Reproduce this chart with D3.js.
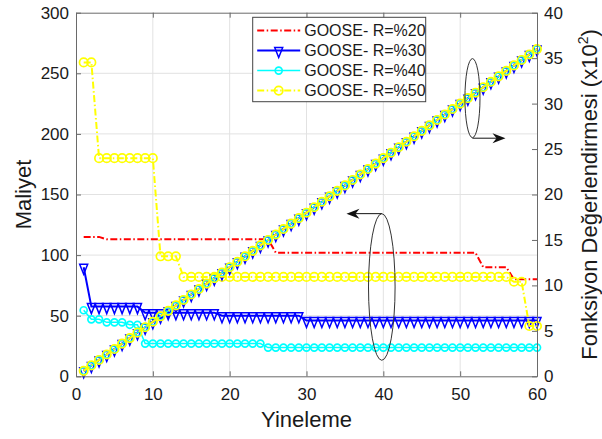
<!DOCTYPE html>
<html>
<head>
<meta charset="utf-8">
<script src="https://cdn.jsdelivr.net/npm/d3@7/dist/d3.min.js"></script>
<style>
    body { margin: 0; background: #fff; }
    #chart { width: 602px; height: 439px; }
    text { font-family: "Liberation Sans", Arial, sans-serif; fill: #1a1a1a; }
</style>
</head>
<body>
<div id="chart"></div>
<script>
// x axis: iteration number
const iterations = [1,2,3,4,5,6,7,8,9,10,11,12,13,14,15,16,17,18,19,20,
    21,22,23,24,25,26,27,28,29,30,31,32,33,34,35,36,37,38,39,40,
    41,42,43,44,45,46,47,48,49,50,51,52,53,54,55,56,57,58,59,60];

// right axis: function evaluations (x10^2), same for every run
const fevals = [0.6,1.2,1.8,2.4,3.0,3.6,4.2,4.8,5.4,6.0,6.6,7.2,7.8,8.4,9.0,9.6,10.2,10.8,11.4,12.0,
    12.6,13.2,13.8,14.4,15.0,15.6,16.2,16.8,17.4,18.0,18.6,19.2,19.8,20.4,21.0,21.6,22.2,22.8,23.4,24.0,
    24.6,25.2,25.8,26.4,27.0,27.6,28.2,28.8,29.4,30.0,30.6,31.2,31.8,32.4,33.0,33.6,34.2,34.8,35.4,36.0];

// left axis: cost (Maliyet) per iteration
const costR20 = [115,115,115,113,113,113,113,113,113,113,113,113,113,113,113,113,113,113,113,113,
    113,113,113,113,113,102,102,102,102,102,102,102,102,102,102,102,102,102,102,102,
    102,102,102,102,102,102,102,102,102,102,102,102,90,90,90,90,80,80,80,80];
const costR30 = [90,57.5,57.5,57.5,57.5,57.5,57.5,57.5,52.5,52.5,52.5,52.5,52.5,52.5,52.5,52.5,52.5,52.5,50,50,
    50,50,50,50,50,50,50,50,50,46,46,46,46,46,46,46,46,46,46,46,
    46,46,46,46,46,46,46,46,46,46,46,46,46,46,46,46,46,46,46,46];
const costR40 = [54.5,47,47,44.5,44.5,44.5,42.5,42.5,27,27,27,27,27,27,27,27,27,27,27,27,
    27,27,27,27,23.7,23.7,23.7,23.7,23.7,23.7,23.7,23.7,23.7,23.7,23.7,23.7,23.7,23.7,23.7,23.7,
    23.7,23.7,23.7,23.7,23.7,23.7,23.7,23.7,23.7,23.7,23.7,23.7,23.7,23.7,23.7,23.7,23.7,23.7,23.7,23.7];
const costR50 = [259,259,180,180,180,180,180,180,180,180,99,99,99,82,82,82,82,82,82,82,
    82,82,82,82,82,82,82,82,82,82,82,82,82,82,82,82,82,82,82,82,
    82,82,82,82,82,82,82,82,82,82,82,82,82,82,82,82,78,78,41.5,41.5];

const seriesNames = ["GOOSE- R=%20", "GOOSE- R=%30", "GOOSE- R=%40", "GOOSE- R=%50"];

const xTicks = [0, 10, 20, 30, 40, 50, 60];
const yLeftTicks = [0, 50, 100, 150, 200, 250, 300];
const yRightTicks = [0, 5, 10, 15, 20, 25, 30, 35, 40];

class DualAxisChart {
    constructor(parentElement) {
        this.parentElement = parentElement;
        this.initVis();
    }

    initVis() {
        let vis = this;

        vis.margin = {top: 12.7, right: 65, bottom: 62.7, left: 76};
        vis.width = 602 - vis.margin.left - vis.margin.right;
        vis.height = 439 - vis.margin.top - vis.margin.bottom;

        vis.svg = d3.select("#" + vis.parentElement).append("svg")
            .attr("width", 602)
            .attr("height", 439)
            .append("g")
            .attr("transform", `translate(${vis.margin.left}, ${vis.margin.top})`);

        vis.x = d3.scaleLinear().domain([0, 60]).range([0, vis.width]);
        vis.yL = d3.scaleLinear().domain([0, 300]).range([vis.height, 0]);
        vis.yR = d3.scaleLinear().domain([0, 40]).range([vis.height, 0]);

        // each run, with its style (kept apart from the values)
        vis.series = [
            {name: seriesNames[0], cost: costR20, color: "#ff0000", dash: "7,2.5,1.5,2.5", width: 2, marker: null},
            {name: seriesNames[1], cost: costR30, color: "#0000ff", dash: null, width: 2, marker: "tri"},
            {name: seriesNames[2], cost: costR40, color: "#00ffff", dash: null, width: 1.5, marker: "circle", r: 3.5},
            {name: seriesNames[3], cost: costR50, color: "#ffff00", dash: "7,2.5,1.5,2.5", width: 2, marker: "circle", r: 4.2}
        ];

        vis.updateVis();
    }

    drawMarkers(g, s, pts) {
        if (s.marker === "tri") {
            g.selectAll(null).data(pts).join("path")
                .attr("d", "M-4,-3L4,-3L0,7Z")
                .attr("transform", d => `translate(${d[0]},${d[1]})`)
                .attr("fill", "none")
                .attr("stroke", s.color)
                .attr("stroke-width", 1.5);
        } else if (s.marker === "circle") {
            g.selectAll(null).data(pts).join("circle")
                .attr("cx", d => d[0])
                .attr("cy", d => d[1])
                .attr("r", s.r)
                .attr("fill", "none")
                .attr("stroke", s.color)
                .attr("stroke-width", 1.7);
        }
    }

    updateVis() {
        let vis = this;

        // grid
        let grid = vis.svg.append("g");
        grid.selectAll(".vg").data(xTicks.slice(1, -1)).join("line")
            .attr("x1", d => vis.x(d)).attr("x2", d => vis.x(d))
            .attr("y1", 0).attr("y2", vis.height)
            .attr("stroke", "#e2e2e2");
        grid.selectAll(".hg").data(yLeftTicks.slice(1, -1)).join("line")
            .attr("x1", 0).attr("x2", vis.width)
            .attr("y1", d => vis.yL(d)).attr("y2", d => vis.yL(d))
            .attr("stroke", "#e2e2e2");

        let line = d3.line();

        // cost curves on the left axis first, then evaluations on the right axis
        let layers = [
            {key: "cost", scale: vis.yL},
            {key: "fe", scale: vis.yR}
        ];
        layers.forEach(layer => {
            vis.series.forEach(s => {
                let vals = layer.key === "cost" ? s.cost : fevals;
                let pts = iterations.map((it, i) => [vis.x(it), layer.scale(vals[i])]);
                let g = vis.svg.append("g");
                g.append("path")
                    .attr("d", line(pts))
                    .attr("fill", "none")
                    .attr("stroke", s.color)
                    .attr("stroke-width", s.width)
                    .attr("stroke-dasharray", s.dash);
                vis.drawMarkers(g, s, pts);
            });
        });

        // axes
        const axisColor = "#6a6a6a";
        let styleAxis = g => {
            g.select(".domain").attr("stroke", axisColor);
            g.selectAll(".tick line").attr("stroke", axisColor);
            g.selectAll(".tick text")
                .style("font-size", "17px")
                .style("font-family", "'Liberation Sans', Arial, sans-serif")
                .attr("fill", "#1a1a1a");
        };

        vis.svg.append("g")
            .attr("transform", `translate(0, ${vis.height})`)
            .call(d3.axisBottom(vis.x).tickValues(xTicks).tickSizeInner(-5).tickSizeOuter(0).tickPadding(12))
            .call(styleAxis);

        vis.svg.append("g")
            .call(d3.axisTop(vis.x).tickValues(xTicks).tickSizeInner(-5).tickSizeOuter(0).tickFormat(""))
            .call(styleAxis);

        vis.svg.append("g")
            .call(d3.axisLeft(vis.yL).tickValues(yLeftTicks).tickSizeInner(-5).tickSizeOuter(0).tickPadding(7))
            .call(styleAxis);

        vis.svg.append("g")
            .attr("transform", `translate(${vis.width}, 0)`)
            .call(d3.axisRight(vis.yR).tickValues(yRightTicks).tickSizeInner(-5).tickSizeOuter(0).tickPadding(7))
            .call(styleAxis);

        // axis labels
        vis.svg.append("text")
            .attr("x", vis.width / 2)
            .attr("y", 427 - vis.margin.top)
            .attr("text-anchor", "middle")
            .style("font-size", "22px")
            .text("Yineleme");

        vis.svg.append("text")
            .attr("transform", `translate(${31 - vis.margin.left}, ${vis.height / 2}) rotate(-90)`)
            .attr("text-anchor", "middle")
            .style("font-size", "22px")
            .text("Maliyet");

        let rLabel = vis.svg.append("text")
            .attr("transform", `translate(${597 - vis.margin.left}, ${vis.height / 2}) rotate(-90)`)
            .attr("text-anchor", "middle")
            .style("font-size", "22px");
        rLabel.append("tspan").text("Fonksiyon Değerlendirmesi (x10");
        rLabel.append("tspan").attr("dy", -9).style("font-size", "14px").text("2");
        rLabel.append("tspan").attr("dy", 9).text(")");

        // annotation ellipses with arrows
        let ann = vis.svg.append("g");
        let e1 = {cx: vis.x(51.6), cy: vis.yR(30.6), rx: vis.x(0.98), ry: vis.height - vis.yR(4.35)};
        let e2 = {cx: vis.x(39.8), cy: vis.yL(73.7), rx: vis.x(1.73), ry: vis.height - vis.yL(60.5)};
        [e1, e2].forEach(e => {
            ann.append("ellipse")
                .attr("cx", e.cx).attr("cy", e.cy)
                .attr("rx", e.rx).attr("ry", e.ry)
                .attr("fill", "none")
                .attr("stroke", "#333")
                .attr("stroke-width", 1);
        });

        // arrow to the right axis, from bottom of ellipse 1
        let a1 = {x0: e1.cx, y0: e1.cy + e1.ry + 0.5, x1: vis.x(55.9)};
        ann.append("line")
            .attr("x1", a1.x0).attr("y1", a1.y0).attr("x2", a1.x1 - 8).attr("y2", a1.y0)
            .attr("stroke", "#111").attr("stroke-width", 1);
        ann.append("path")
            .attr("d", `M${a1.x1},${a1.y0}L${a1.x1 - 13},${a1.y0 - 5}L${a1.x1 - 9},${a1.y0}L${a1.x1 - 13},${a1.y0 + 5}Z`)
            .attr("fill", "#111");

        // arrow to the left axis, from top of ellipse 2
        let a2 = {x0: e2.cx, y0: e2.cy - e2.ry, x1: vis.x(35.2)};
        ann.append("line")
            .attr("x1", a2.x0).attr("y1", a2.y0).attr("x2", a2.x1 + 8).attr("y2", a2.y0)
            .attr("stroke", "#111").attr("stroke-width", 1);
        ann.append("path")
            .attr("d", `M${a2.x1},${a2.y0}L${a2.x1 + 13},${a2.y0 - 5}L${a2.x1 + 9},${a2.y0}L${a2.x1 + 13},${a2.y0 + 5}Z`)
            .attr("fill", "#111");

        // legend
        let lg = vis.svg.append("g")
            .attr("transform", `translate(${252.7 - vis.margin.left}, ${17.3 - vis.margin.top})`);
        lg.append("rect")
            .attr("width", 173).attr("height", 84.4)
            .attr("fill", "#fff")
            .attr("stroke", "#444")
            .attr("stroke-width", 1);
        vis.series.forEach((s, i) => {
            let cy = 13.3 + i * 20;
            let row = lg.append("g");
            row.append("line")
                .attr("x1", 4.5).attr("x2", 47.5)
                .attr("y1", cy).attr("y2", cy)
                .attr("stroke", s.color)
                .attr("stroke-width", s.width)
                .attr("stroke-dasharray", s.dash);
            vis.drawMarkers(row, s, [[26, cy]]);
            row.append("text")
                .attr("x", 51.5)
                .attr("y", cy + 5.5)
                .style("font-size", "16px")
                .text(s.name);
        });
    }
}

new DualAxisChart("chart");
</script>
</body>
</html>
